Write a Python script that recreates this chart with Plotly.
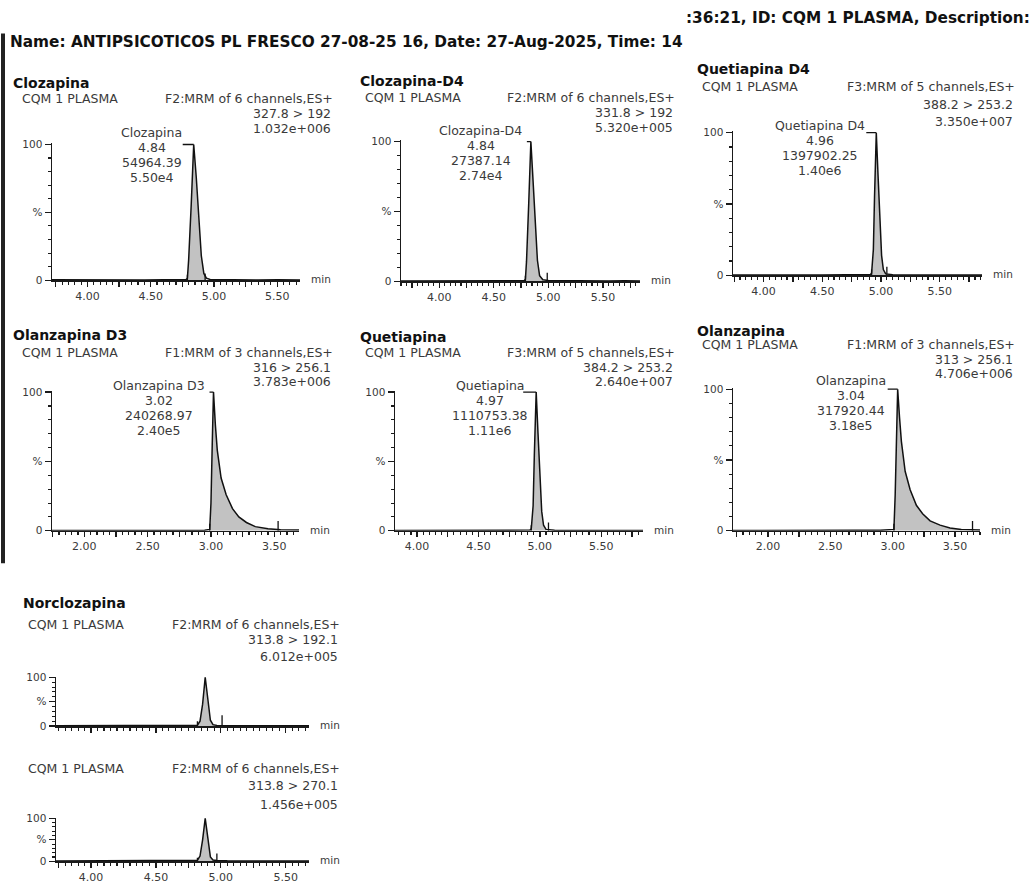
import plotly.graph_objects as go

W, H = 1032, 886
FONT = "DejaVu Sans"
TXT = "#3a3a3a"
AX = "#1a1a1a"

# ---------------- data ----------------
header_left = "Name: ANTIPSICOTICOS PL FRESCO 27-08-25 16, Date: 27-Aug-2025, Time: 14"
header_right = ":36:21, ID: CQM 1 PLASMA, Description:"
sample_id = "CQM 1 PLASMA"

titles = ["Clozapina", "Clozapina-D4", "Quetiapina D4", "Olanzapina D3",
          "Quetiapina", "Olanzapina", "Norclozapina", ""]
functions = ["F2:MRM of 6 channels,ES+", "F2:MRM of 6 channels,ES+", "F3:MRM of 5 channels,ES+",
             "F1:MRM of 3 channels,ES+", "F3:MRM of 5 channels,ES+", "F1:MRM of 3 channels,ES+",
             "F2:MRM of 6 channels,ES+", "F2:MRM of 6 channels,ES+"]
transitions = ["327.8 > 192", "331.8 > 192", "388.2 > 253.2", "316 > 256.1",
               "384.2 > 253.2", "313 > 256.1", "313.8 > 192.1", "313.8 > 270.1"]
max_counts = ["1.032e+006", "5.320e+005", "3.350e+007", "3.783e+006",
              "2.640e+007", "4.706e+006", "6.012e+005", "1.456e+005"]

peak_names = ["Clozapina", "Clozapina-D4", "Quetiapina D4", "Olanzapina D3", "Quetiapina", "Olanzapina"]
peak_rt = [4.84, 4.84, 4.96, 3.02, 4.97, 3.04]
peak_area = ["54964.39", "27387.14", "1397902.25", "240268.97", "1110753.38", "317920.44"]
peak_height = ["5.50e4", "2.74e4", "1.40e6", "2.40e5", "1.11e6", "3.18e5"]

# chromatograms: retention time (min) and relative intensity (%)
clz_t = [3.72, 3.85, 4.00, 4.15, 4.30, 4.45, 4.60, 4.72, 4.78, 4.79, 4.80, 4.82, 4.84, 4.86, 4.88,
         4.90, 4.92, 4.94, 4.97, 5.05, 5.20, 5.35, 5.50, 5.68]
clz_i = [0.3, 0.2, 0.3, 0.2, 0.3, 0.2, 0.3, 0.4, 0.6, 1.5, 15, 55, 100, 76, 46,
         18, 5, 1.5, 0.6, 0.4, 0.3, 0.2, 0.3, 0.2]

clzd4_t = [3.65, 3.80, 4.00, 4.20, 4.40, 4.60, 4.72, 4.78, 4.79, 4.80, 4.82, 4.84, 4.86, 4.88,
           4.90, 4.92, 4.95, 5.00, 5.15, 5.35, 5.55, 5.70, 5.84]
clzd4_i = [0.2, 0.3, 0.2, 0.3, 0.2, 0.3, 0.3, 0.5, 1.5, 14, 55, 100, 72, 40,
           15, 4, 1, 0.6, 0.4, 0.3, 0.2, 0.3, 0.2]

qtd4_t = [3.74, 3.90, 4.10, 4.30, 4.50, 4.70, 4.85, 4.91, 4.92, 4.935, 4.945, 4.96, 4.975, 4.99,
          5.005, 5.02, 5.04, 5.10, 5.30, 5.50, 5.70, 5.86]
qtd4_i = [0.2, 0.3, 0.2, 0.3, 0.2, 0.3, 0.3, 0.5, 1.5, 18, 55, 100, 70, 38,
          14, 4, 1, 0.4, 0.3, 0.2, 0.3, 0.2]

olzd3_t = [1.745, 1.90, 2.10, 2.30, 2.50, 2.70, 2.85, 2.95, 2.99, 3.00, 3.01, 3.02, 3.035, 3.05,
           3.08, 3.12, 3.17, 3.22, 3.28, 3.35, 3.45, 3.55, 3.695]
olzd3_i = [0.2, 0.3, 0.2, 0.3, 0.2, 0.3, 0.3, 0.4, 1.0, 20, 62, 100, 76, 58,
           38, 26, 16, 10, 6, 3, 1.5, 0.8, 0.5]

qt_t = [3.82, 4.00, 4.20, 4.40, 4.60, 4.80, 4.88, 4.92, 4.93, 4.945, 4.955, 4.97, 4.985, 5.00,
        5.015, 5.03, 5.05, 5.12, 5.30, 5.50, 5.70, 5.84]
qt_i = [0.2, 0.3, 0.2, 0.3, 0.2, 0.3, 0.3, 0.5, 1.5, 18, 55, 100, 70, 38,
        14, 4, 1, 0.4, 0.3, 0.2, 0.3, 0.2]

olz_t = [1.72, 1.90, 2.10, 2.30, 2.50, 2.70, 2.90, 2.98, 3.01, 3.02, 3.03, 3.04, 3.055, 3.07,
         3.10, 3.14, 3.19, 3.24, 3.30, 3.38, 3.46, 3.55, 3.70]
olz_i = [0.2, 0.3, 0.2, 0.3, 0.2, 0.3, 0.3, 0.5, 1.0, 25, 68, 100, 80, 63,
         42, 29, 18, 12, 7, 4, 2, 1, 0.5]

ncz1_t = [3.73, 3.90, 4.10, 4.30, 4.50, 4.70, 4.80, 4.82, 4.84, 4.86, 4.88, 4.90, 4.92, 4.94,
          4.97, 5.05, 5.25, 5.45, 5.68]
ncz1_i = [0.5, 0.8, 0.5, 0.7, 0.6, 0.8, 1.0, 2, 10, 45, 100, 50, 12, 3,
          1.5, 0.8, 0.6, 0.7, 0.5]

ncz2_t = [3.73, 3.90, 4.10, 4.30, 4.50, 4.70, 4.80, 4.82, 4.84, 4.86, 4.88, 4.90, 4.92, 4.94,
          4.97, 5.05, 5.25, 5.45, 5.68]
ncz2_i = [0.6, 0.9, 0.6, 0.8, 0.7, 0.9, 1.2, 2.5, 12, 50, 100, 48, 10, 3,
          1.5, 0.9, 0.7, 0.8, 0.6]

series_t = [clz_t, clzd4_t, qtd4_t, olzd3_t, qt_t, olz_t, ncz1_t, ncz2_t]
series_i = [clz_i, clzd4_i, qtd4_i, olzd3_i, qt_i, olz_i, ncz1_i, ncz2_i]

integ_start = [4.79, 4.79, 4.92, 2.99, 4.93, 3.01, 4.82, 4.82]
integ_end = [4.94, 4.95, 5.04, 3.55, 5.05, 3.65, 4.97, 4.97]
mark_start_h = [4, 4, 4, 5, 4, 5, 10, 8]
mark_end_t = [4.93, 4.99, 5.05, 3.53, 5.07, 3.64, 5.01, 4.97]
mark_end_h = [5, 6, 6, 7, 6, 7, 22, 18]

xtick_labels_cz = [4.00, 4.50, 5.00, 5.50]
xtick_labels_ol = [2.00, 2.50, 3.00, 3.50]
ytick_vals = [0, 50, 100]
ytick_text = ["0", "%", "100"]

# ---------------- layout (pixels) ----------------
# x_left, x_right, y_top(100 %), y_zero
boxes = [(52, 300, 140, 278), (401, 640, 137, 279), (733, 982, 128, 273),
         (52, 299, 391, 532), (395, 643, 391, 532), (733, 980, 388, 532),
         (56, 309, 681, 730), (56, 309, 824, 867)]
xranges = [(3.72, 5.68), (3.65, 5.84), (3.74, 5.86), (1.745, 3.695),
           (3.82, 5.84), (1.72, 3.70), (3.73, 5.68), (3.73, 5.68)]
tick_sets = [xtick_labels_cz, xtick_labels_cz, xtick_labels_cz, xtick_labels_ol,
             xtick_labels_cz, xtick_labels_ol, xtick_labels_cz, xtick_labels_cz]
# title(x,y), sample x, right edge x, rows y
text_pos = [((11, 78), 20, 335, (94, 109, 124)),
            ((358, 76), 363, 677, (93, 108, 123)),
            ((695, 64), 700, 1017, (82, 100, 117)),
            ((11, 334), 20, 335, (351, 366, 381)),
            ((358, 336), 363, 677, (351, 366, 381)),
            ((695, 329), 700, 1017, (343, 358, 373)),
            ((21, 605), 26, 342, (627, 642, 659)),
            (None, 26, 342, (773, 790, 809))]
label_center = [42, 50, 56, 55, 46, 47]
label_gap = [10, 3, 9, 3, 12, 9]
label_first = [-10, -10, -6, -5, -5, -7]


def fx(p):
    return p / W


def fy(p):
    return 1 - p / H


fig = go.Figure()
annotations = []
shapes = []
small = dict(family=FONT, size=12.5, color=TXT)

for k in range(8):
    n = k + 1
    xa, ya = ("x" if n == 1 else f"x{n}"), ("y" if n == 1 else f"y{n}")
    t, v = series_t[k], series_i[k]
    s, e = integ_start[k], integ_end[k]
    ft = [tt for tt, vv in zip(t, v) if s <= tt <= e]
    fv = [vv for tt, vv in zip(t, v) if s <= tt <= e]
    fig.add_trace(go.Scatter(x=ft, y=fv, mode="lines", fill="tozeroy", fillcolor="#c2c2c2",
                             line=dict(width=0, color="rgba(0,0,0,0)"), xaxis=xa, yaxis=ya,
                             showlegend=False, hoverinfo="skip"))
    fig.add_trace(go.Scatter(x=t, y=v, mode="lines", line=dict(color="#111111", width=1.5),
                             xaxis=xa, yaxis=ya, showlegend=False))
    fig.add_trace(go.Scatter(x=[s, s, None, mark_end_t[k], mark_end_t[k]],
                             y=[0, mark_start_h[k], None, 0, mark_end_h[k]],
                             mode="lines", line=dict(color="#111111", width=1.3),
                             xaxis=xa, yaxis=ya, showlegend=False, hoverinfo="skip"))

    x0, x1, yt, yz = boxes[k]
    lo, hi = xranges[k]
    labels = tick_sets[k]
    q0 = int(lo * 4) + 1
    q1 = int(hi * 4)
    tv = [q / 4 for q in range(q0, q1 + 1)]
    tt = [(f"{q / 4:.2f}" if (q / 4) in labels else "") for q in range(q0, q1 + 1)]
    axkey = "xaxis" if n == 1 else f"xaxis{n}"
    aykey = "yaxis" if n == 1 else f"yaxis{n}"
    fig.layout[axkey] = dict(
        domain=[fx(x0), fx(x1)], range=[lo, hi], anchor=ya, showline=True, linecolor=AX,
        linewidth=1.5, ticks="outside", ticklen=5, tickwidth=1.3, tickcolor=AX,
        tickmode="array", tickvals=tv, ticktext=tt, showticklabels=(n != 7),
        tickfont=dict(family=FONT, size=11, color=TXT), showgrid=False, zeroline=False,
        minor=dict(ticks="outside", ticklen=3, tickwidth=1.1, tickcolor=AX, dtick=0.05,
                   tick0=0, showgrid=False),
        fixedrange=True)
    fig.layout[aykey] = dict(
        domain=[fy(yz), fy(yt - 1)], range=[0, 101], anchor=xa, showline=True, linecolor=AX,
        linewidth=1.5, ticks="outside", ticklen=6, tickwidth=1.3, tickcolor=AX,
        tickmode="array", tickvals=ytick_vals, ticktext=ytick_text,
        tickfont=dict(family=FONT, size=10.5, color=TXT), showgrid=False, zeroline=False,
        minor=dict(ticks="outside", ticklen=3, tickwidth=1.1, tickcolor=AX, dtick=10,
                   tick0=0, showgrid=False),
        fixedrange=True)

    title_xy, sx, rx, rows = text_pos[k]
    if title_xy is not None and titles[k]:
        annotations.append(dict(x=fx(title_xy[0]), y=fy(title_xy[1]), xref="paper", yref="paper",
                                xanchor="left", yanchor="middle", showarrow=False,
                                text=f"<b>{titles[k]}</b>",
                                font=dict(family=FONT, size=14, color="#111111")))
    annotations.append(dict(x=fx(sx), y=fy(rows[0]), xref="paper", yref="paper", xanchor="left",
                            yanchor="middle", showarrow=False, text=sample_id, font=small))
    for j, (txt, row) in enumerate(zip([functions[k], transitions[k], max_counts[k]], rows)):
        annotations.append(dict(x=fx(rx - (0 if j == 0 else 2)), y=fy(row), xref="paper",
                                yref="paper", xanchor="right", yanchor="middle",
                                showarrow=False, text=txt, font=small))
    annotations.append(dict(x=fx(x1 + 9), y=fy(yz - 1), xref="paper", yref="paper",
                            xanchor="left", yanchor="middle", showarrow=False, text="min",
                            font=dict(family=FONT, size=10.5, color=TXT)))

    if k < 6:
        lines = [peak_names[k], f"{peak_rt[k]:.2f}", peak_area[k], peak_height[k]]
        for j, line in enumerate(lines):
            annotations.append(dict(
                x=peak_rt[k], y=100, xref=xa, yref=ya, xanchor="center", yanchor="middle",
                xshift=-label_center[k], yshift=-(label_first[k] + 15 * j) + 1.5,
                showarrow=False, text=line, font=small))
        g = label_gap[k]
        shapes.append(dict(type="line", xref=xa, yref=ya, xsizemode="pixel", xanchor=peak_rt[k],
                           x0=-g - 1, x1=0, y0=100, y1=100,
                           line=dict(color="#111111", width=1.3)))

# header
head_font = dict(family=FONT, size=15.3, color="#111111")
annotations.append(dict(x=fx(8), y=fy(37), xref="paper", yref="paper", xanchor="left",
                        yanchor="middle", showarrow=False, text=f"<b>{header_left}</b>",
                        font=head_font))
annotations.append(dict(x=fx(684), y=fy(12), xref="paper", yref="paper", xanchor="left",
                        yanchor="middle", showarrow=False, text=f"<b>{header_right}</b>",
                        font=head_font))
# left margin bar of the printout
shapes.append(dict(type="rect", xref="paper", yref="paper", x0=fx(1), x1=fx(5),
                   y0=fy(565), y1=fy(28), fillcolor="#222222", line=dict(width=0)))

fig.update_layout(width=W, height=H, margin=dict(l=0, r=0, t=0, b=0), autosize=False,
                  paper_bgcolor="white", plot_bgcolor="white",
                  annotations=annotations, shapes=shapes, showlegend=False,
                  font=dict(family=FONT, color=TXT))

fig.write_html("out.html", config={"displayModeBar": False, "staticPlot": True},
               post_script="document.body.style.margin='0px';document.body.style.overflow='hidden';")
